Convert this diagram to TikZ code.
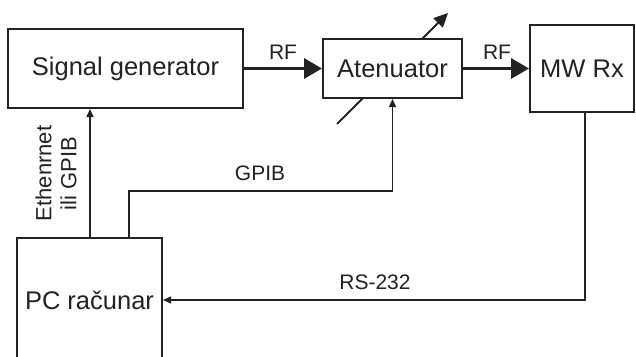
\documentclass[tikz,border=0pt]{standalone}
\usepackage{fontspec}
\setmainfont{Liberation Sans}
\usetikzlibrary{arrows.meta,calc}
\definecolor{ink}{HTML}{222222}
\begin{document}
\begin{tikzpicture}[x=1pt,y=-1pt,
  blockbox/.style={draw=ink,line width=2pt,fill=white,inner sep=0pt,
    font=\fontsize{25.5}{30}\selectfont,text=ink},
  lbl/.style={inner sep=0pt,font=\fontsize{21}{25}\selectfont,text=ink},
  rfarrow/.style={draw=ink,line width=3.2pt,-{Triangle[length=18pt,width=20pt]}},
  thinarrow/.style={draw=ink,line width=1.3pt,-{Triangle[length=8pt,width=7pt]}},
  varrow/.style={draw=ink,line width=2pt,-{Triangle[length=14pt,width=13pt]}}]
\clip (0,0) rectangle (636,356);
\fill[white] (0,0) rectangle (636,356);
% variable attenuator arrow (drawn first, box covers the middle)
\coordinate (vlo) at (337,124);
\coordinate (vhi) at (448,13);
\draw[varrow] (vlo) -- (vhi);
\node[blockbox,minimum width=235pt,minimum height=79pt] (sg) at (125.5,68.5) {Signal generator};
\node[blockbox,minimum width=139pt,minimum height=59pt] (at) at (392.5,68.5) {Atenuator};
\node[blockbox,minimum width=104pt,minimum height=87pt] (rx) at (582,68.5) {MW Rx};
\node[blockbox,minimum width=145pt,minimum height=124pt] (pc) at (89.5,300) {PC računar};
% RF links
\draw[rfarrow] (sg.east) -- (at.west);
\draw[rfarrow] (at.east) -- (rx.west);
\node[lbl] (rf1) at (283,52.5) {RF};
\node[lbl] (rf2) at (497,52) {RF};
% control links
\coordinate (ethx) at (90,0);
\coordinate (gpx) at (129,0);
\coordinate (gpy) at (0,191);
\coordinate (rsx) at (585,0);
\draw[thinarrow] (pc.north -| ethx) -- (sg.south -| ethx);
\draw[thinarrow] (pc.north -| gpx) |- (gpy -| at.south) -- (at.south);
\draw[thinarrow] (rx.south -| rsx) |- (pc.east);
\node[lbl] (gpib) at (260,173) {GPIB};
\node[lbl] (rs) at (375,282) {RS-232};
\node[lbl,rotate=90,align=center,font=\fontsize{22}{25}\selectfont] (eth) at (56,173.5) {Ethenrnet\\ili GPIB};
\end{tikzpicture}
\end{document}
